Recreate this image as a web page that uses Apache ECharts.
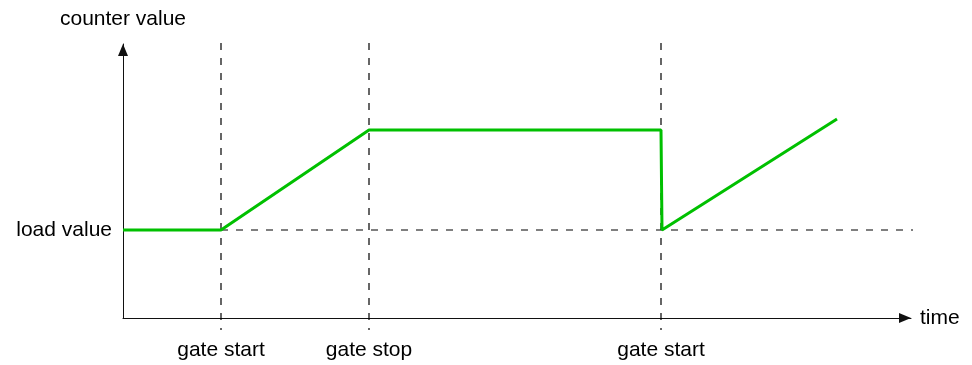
<!DOCTYPE html>
<html>
<head>
<meta charset="utf-8">
<script src="https://cdn.jsdelivr.net/npm/echarts@6/dist/echarts.min.js"></script>
<style>
html, body { margin: 0; padding: 0; background: #fff; }
#chart { width: 972px; height: 365px; }
</style>
</head>
<body>
<div id="chart"></div>
<script>
// counter value over time (arbitrary units)
var counterTime = [0, 98, 246, 538, 539, 714];
var counterValue = [88, 88, 188, 188, 88, 199];

var gateTimes = [98, 246, 538];
var gateNames = ["gate start", "gate stop", "gate start"];
var gateTop = 275, gateBottom = -12;

var loadValue = 88;
var loadLabel = "load value";
var loadEnd = 790;

var timeMax = 788;
var valueMax = 274;

var font = "Liberation Sans";
var dash = [7, 8];

var line = [];
for (var i = 0; i < counterTime.length; i++)
	line.push([counterTime[i], counterValue[i]]);

function dashed(pts) {
	return {
		type: "line",
		data: pts,
		clip: false,
		silent: true,
		showSymbol: false,
		lineStyle: { color: "#000", width: 1.2, type: dash },
		z: 1
	};
}

var series = [];
for (var j = 0; j < gateTimes.length; j++)
	series.push(dashed([[gateTimes[j], gateTop], [gateTimes[j], gateBottom]]));
series.push(dashed([[gateTimes[0], loadValue], [loadEnd, loadValue]]));
series.push({
	type: "line",
	data: line,
	clip: false,
	showSymbol: false,
	silent: true,
	lineStyle: { color: "#00c000", width: 3 },
	z: 5
});

var chart = echarts.init(document.getElementById("chart"), null, { renderer: "canvas" });

chart.setOption({
	animation: false,
	grid: {
		left: 123,
		top: 44,
		width: 788,
		height: 274
	},
	xAxis: {
		type: "value",
		min: 0,
		max: timeMax,
		name: "time",
		nameLocation: "end",
		nameGap: 9,
		nameTextStyle: { fontFamily: font, fontSize: 21, color: "#000", verticalAlign: "middle" },
		axisLine: {
			show: true,
			symbol: ["none", "triangle"],
			symbolSize: [10, 12],
			symbolOffset: [0, -6],
			lineStyle: { color: "#111", width: 1 }
		},
		axisTick: { show: false },
		splitLine: { show: false },
		axisLabel: {
			customValues: gateTimes,
			margin: 22,
			fontFamily: font,
			fontSize: 21,
			color: "#000",
			formatter: function(v) {
				var k = gateTimes.indexOf(v);
				return k >= 0 ? gateNames[k] : "";
			}
		}
	},
	yAxis: {
		type: "value",
		min: 0,
		max: valueMax,
		name: "counter value",
		nameLocation: "end",
		nameGap: 14,
		nameTextStyle: { fontFamily: font, fontSize: 21, color: "#000", align: "center" },
		axisLine: {
			show: true,
			symbol: ["none", "triangle"],
			symbolSize: [10, 12],
			symbolOffset: [0, -6],
			lineStyle: { color: "#111", width: 1 }
		},
		axisTick: { show: false },
		splitLine: { show: false },
		axisLabel: {
			customValues: [loadValue],
			margin: 11,
			fontFamily: font,
			fontSize: 21,
			color: "#000",
			formatter: function(v) {
				return v === loadValue ? loadLabel : "";
			}
		}
	},
	series: series
});
</script>
</body>
</html>
